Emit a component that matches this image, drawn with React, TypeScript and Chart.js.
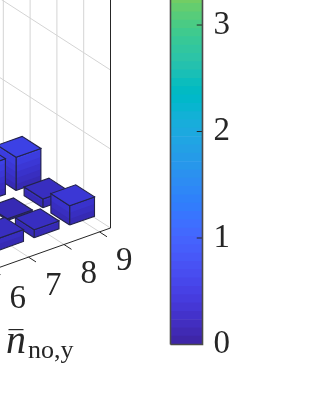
import React, { useEffect, useRef } from "react";
import { Chart, registerables } from "chart.js";

Chart.register(...registerables);

// ---- data ----
const xCategories = [9, 8, 7];
const xTickLabels = [9, 8, 7, 6];
const yRows = [3, 2, 1];
const heightsRow3 = [0.42, 0.45, 0];
const heightsRow2 = [0.11, 0.02, 0];
const heightsRow1 = [0.245, 0.1, 0.15];
const heightTable = [heightsRow3, heightsRow2, heightsRow1];
const colorbarTicks = [0, 1, 2, 3];
const wallYLines = [1, 2, 3, 4];
const wallZLines = [1, 2];
const floorYLines = [1, 2, 3, 4, 5, 6];
const colormapMax = 5;
const colormapLevels = 64;
const colorbarTop = 3.235;
const parula = [
  [0.2422, 0.1504, 0.6603], [0.2504, 0.165, 0.7076], [0.2578, 0.1818, 0.7511], [0.2647, 0.1978, 0.7952],
  [0.2706, 0.2147, 0.8364], [0.2751, 0.2342, 0.871], [0.2783, 0.2559, 0.8991], [0.2803, 0.2782, 0.9221],
  [0.2813, 0.3006, 0.9414], [0.281, 0.3228, 0.9579], [0.2795, 0.3447, 0.9717], [0.276, 0.3667, 0.9829],
  [0.2699, 0.3892, 0.9906], [0.2602, 0.4123, 0.9952], [0.244, 0.4358, 0.9988], [0.2206, 0.4603, 0.9973],
  [0.1963, 0.4847, 0.9892], [0.1834, 0.5074, 0.9798], [0.1786, 0.5289, 0.9682], [0.1764, 0.5499, 0.952],
  [0.1687, 0.5703, 0.9359], [0.154, 0.5902, 0.9218], [0.146, 0.6091, 0.9079], [0.138, 0.6276, 0.8973],
  [0.1248, 0.6459, 0.8883], [0.1113, 0.6635, 0.8763], [0.0952, 0.6798, 0.8598], [0.0689, 0.6948, 0.8394],
  [0.0297, 0.7082, 0.8163], [0.0036, 0.7203, 0.7917], [0.0067, 0.7312, 0.766], [0.0433, 0.7411, 0.7394],
  [0.0964, 0.75, 0.712], [0.1408, 0.7584, 0.6842], [0.1717, 0.767, 0.6554], [0.1938, 0.7758, 0.6251],
  [0.2161, 0.7843, 0.5923], [0.247, 0.7918, 0.5567], [0.2906, 0.7973, 0.5188], [0.3406, 0.8008, 0.4789],
  [0.3909, 0.8029, 0.4354], [0.4456, 0.8024, 0.3909], [0.5044, 0.7993, 0.348],
];

// ---- projection of the 3D axes ----
const MAIN_W = 140;
const H = 420;
const origin = { x: 110.5, y: 228 };
const xEnd = 9.31;
const ex = { x: 35.5, y: -12.6 };
const ey = { x: -26.8, y: -17.3 };
const ez = 79;
const halfBar = 0.35;
const SERIF = '"Liberation Serif", serif';
const INK = "#262626";
const GRID = "#d4d4d4";
const EDGE = "#24244a";
const BAR_RED = 0.85;

const rgb = (c: number[]) => `rgb(${Math.round(c[0] * 255)},${Math.round(c[1] * 255)},${Math.round(c[2] * 255)})`;
const barRgb = (c: number[]) => rgb([c[0] * BAR_RED, c[1], c[2]]);
const cell = colormapMax / colormapLevels;
const project = (x: number, y: number, z: number) => ({
  x: origin.x + (x - xEnd) * ex.x + y * ey.x,
  y: origin.y + (x - xEnd) * ex.y + y * ey.y - z * ez,
});

const poly = (pts: { x: number; y: number }[], opts: any) => ({
  type: "scatter",
  data: pts,
  showLine: true,
  pointRadius: 0,
  tension: 0,
  fill: false,
  borderWidth: 0,
  ...opts,
});
const seg = (a: any, b: any, color: string, width: number) =>
  poly([a, b], { borderColor: color, borderWidth: width });

function bar3Datasets(x: number, y: number, h: number) {
  const out: any[] = [];
  const x0 = x - halfBar, x1 = x + halfBar, y0 = y - halfBar, y1 = y + halfBar;
  const faces = [
    [[x0, y0], [x1, y0]],
    [[x0, y0], [x0, y1]],
  ];
  for (const [a, b] of faces) {
    for (let i = 0; i * cell < h; i++) {
      const lo = i * cell;
      const pts = [
        project(a[0], a[1], lo), project(b[0], b[1], lo),
        project(b[0], b[1], h), project(a[0], a[1], h), project(a[0], a[1], lo),
      ];
      out.push(poly(pts, { fill: "shape", backgroundColor: barRgb(parula[i + 1]), borderColor: "transparent" }));
    }
    const outline = [
      project(a[0], a[1], 0), project(b[0], b[1], 0),
      project(b[0], b[1], h), project(a[0], a[1], h), project(a[0], a[1], 0),
    ];
    out.push(poly(outline, { borderColor: EDGE, borderWidth: 1.1 }));
  }
  const top = [project(x0, y0, h), project(x1, y0, h), project(x1, y1, h), project(x0, y1, h), project(x0, y0, h)];
  const idx = Math.floor(h / cell) + 1;
  out.push(poly(top, { fill: "shape", backgroundColor: barRgb(parula[idx]), borderColor: EDGE, borderWidth: 1.1 }));
  return out;
}

function mainDatasets() {
  const ds: any[] = [];
  for (const y of wallYLines) ds.push(seg(project(xEnd, y, 0), project(xEnd, y, 4), GRID, 1));
  for (const z of wallZLines) ds.push(seg(project(xEnd, 0, z), project(xEnd, 6, z), GRID, 1));
  for (const y of floorYLines) ds.push(seg(project(xEnd, y, 0), project(4, y, 0), GRID, 1));
  for (const x of xTickLabels) ds.push(seg(project(x, 0, 0), project(x, 7, 0), GRID, 1));
  ds.push(seg(project(xEnd, 0, 0), project(xEnd, 7, 0), GRID, 1));
  yRows.forEach((y, r) => {
    xCategories.forEach((x, c) => {
      const h = heightTable[r][c];
      if (h > 0) ds.push(...bar3Datasets(x, y, h));
    });
  });
  ds.push(seg(project(xEnd, 0, 0), project(xEnd, 0, 4), INK, 1));
  ds.push(seg(project(xEnd, 0, 0), project(4, 0, 0), INK, 1));
  for (const x of xTickLabels) ds.push(seg(project(x, 0, 0), project(x, -0.28, 0), INK, 1));
  return ds.reverse();
}

const labelsPlugin = {
  id: "skewLabels",
  afterDatasetsDraw(chart: any) {
    const { ctx, scales } = chart;
    ctx.save();
    ctx.fillStyle = INK;
    ctx.textAlign = "center";
    ctx.textBaseline = "middle";
    ctx.font = `33px ${SERIF}`;
    for (const x of xTickLabels) {
      const p = project(x, 0, 0);
      ctx.fillText(String(x), scales.x.getPixelForValue(p.x + 24.7), scales.y.getPixelForValue(p.y + 29.5));
    }
    ctx.textAlign = "left";
    ctx.textBaseline = "alphabetic";
    ctx.font = `italic 40px ${SERIF}`;
    ctx.fillText("n", scales.x.getPixelForValue(6), scales.y.getPixelForValue(353));
    ctx.fillRect(scales.x.getPixelForValue(8.5), scales.y.getPixelForValue(329), 15, 1.2);
    ctx.font = `26px ${SERIF}`;
    ctx.fillText("no,y", scales.x.getPixelForValue(28), scales.y.getPixelForValue(358));
    ctx.restore();
  },
};

export default function App() {
  const mainRef = useRef<HTMLCanvasElement>(null);
  const barRef = useRef<HTMLCanvasElement>(null);

  useEffect(() => {
    const main = new Chart(mainRef.current!, {
      type: "scatter",
      data: { datasets: mainDatasets() as any },
      options: {
        animation: false,
        responsive: false,
        events: [],
        layout: { padding: 0 },
        plugins: { legend: { display: false }, tooltip: { enabled: false } },
        scales: {
          x: { type: "linear", display: false, min: 0, max: MAIN_W },
          y: { type: "linear", display: false, min: 0, max: H, reverse: true },
        },
      },
      plugins: [labelsPlugin],
    } as any);

    const overlay: any[] = [];
    const frame = [
      { x: 0, y: 0 }, { x: 1, y: 0 }, { x: 1, y: colorbarTop + 1 }, { x: 0, y: colorbarTop + 1 }, { x: 0, y: 0 },
    ];
    overlay.push({
      type: "scatter", showLine: true, xAxisID: "xFrame", data: frame, borderColor: "#4a4a4a", borderWidth: 1.6,
      pointRadius: 0, fill: false, clip: false, tension: 0,
    });
    for (const t of colorbarTicks) {
      overlay.push({
        type: "scatter", showLine: true, xAxisID: "xFrame", data: [{ x: 0.82, y: t }, { x: 1, y: t }], borderColor: INK,
        borderWidth: 1, pointRadius: 0, fill: false, tension: 0,
      });
    }
    const cells = parula
      .map((c, i) => ({
        type: "bar", xAxisID: "x", data: [[i * cell, (i + 1) * cell]],
        backgroundColor: rgb(c), borderWidth: 0, barPercentage: 1, categoryPercentage: 1, grouped: false,
      }))
      .filter((_, i) => i * cell < colorbarTop);

    const bar = new Chart(barRef.current!, {
      type: "bar",
      data: { labels: ["value"], datasets: [...overlay, ...cells] as any },
      options: {
        animation: false,
        responsive: false,
        events: [],
        layout: { padding: { left: 30.5, right: 84.5, top: 0, bottom: 75.5 } },
        plugins: { legend: { display: false }, tooltip: { enabled: false } },
        scales: {
          x: { type: "category", display: false },
          xFrame: { type: "linear", axis: "x", position: "bottom", display: false, min: 0, max: 1, offset: false },
          y: {
            type: "linear",
            position: "right",
            min: 0,
            max: colorbarTop,
            grid: { display: false, drawTicks: false },
            border: { display: false },
            afterBuildTicks: (s: any) => { s.ticks = colorbarTicks.map((v) => ({ value: v })); },
            afterFit: (s: any) => { s.width = 28; s.paddingTop = 0; s.paddingBottom = 0; },
            ticks: { padding: 11, color: INK, font: { family: SERIF, size: 33 }, callback: (v: any) => String(v) },
          },
        },
      },
    } as any);

    return () => { main.destroy(); bar.destroy(); };
  }, []);

  return (
    <div style={{ position: "absolute", left: 0, top: 0, width: 315, height: H, background: "#fff" }}>
      <canvas ref={mainRef} width={MAIN_W} height={H} style={{ position: "absolute", left: 0, top: 0 }} />
      <canvas ref={barRef} width={175} height={H} style={{ position: "absolute", left: 140, top: 0 }} />
    </div>
  );
}
